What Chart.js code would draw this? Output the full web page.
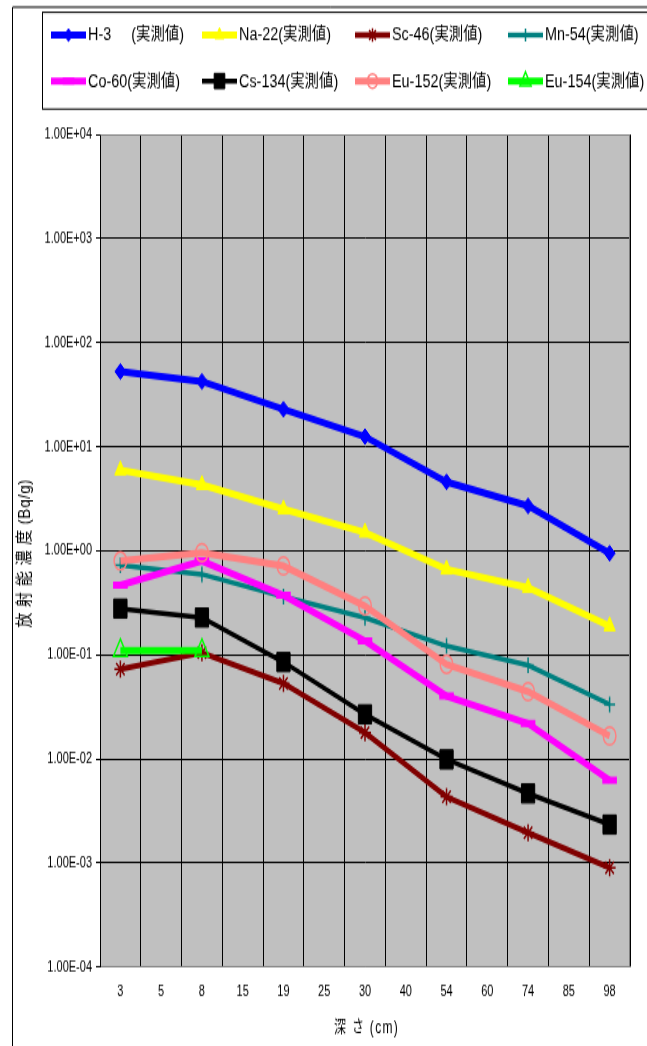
<!DOCTYPE html>
<html>
<head>
<meta charset="utf-8">
<script src="https://cdn.jsdelivr.net/npm/chart.js@4.4.1/dist/chart.umd.min.js"></script>
<style>
html,body{margin:0;padding:0;background:#fff;overflow:hidden}
#c{display:block;width:647px !important;height:1046px !important}
</style>
</head>
<body>
<canvas id="c" width="647" height="732" style="width:647px;height:1046px"></canvas>
<script>
// ---- data ----
const depths = ['3','5','8','15','19','25','30','40','54','60','74','85','98'];
const h3    = [52.8, null, 42.4, null, 22.9, null, 12.5, null, 4.59, null, 2.70, null, 0.946];
const na22  = [5.94, null, 4.30, null, 2.51, null, 1.50, null, 0.664, null, 0.443, null, 0.189];
const sc46  = [0.0730, null, 0.105, null, 0.0532, null, 0.0179, null, 0.00433, null, 0.00195, null, 0.00090];
const mn54  = [0.726, null, 0.594, null, 0.363, null, 0.228, null, 0.1215, null, 0.0794, null, 0.0334];
const co60  = [0.466, null, 0.798, null, 0.373, null, 0.136, null, 0.0402, null, 0.0219, null, 0.00625];
const cs134 = [0.278, null, 0.228, null, 0.0853, null, 0.0268, null, 0.00989, null, 0.00466, null, 0.00234];
const eu152 = [0.798, null, 0.960, null, 0.714, null, 0.295, null, 0.0810, null, 0.0443, null, 0.0166];
const eu154 = [0.110, null, 0.110, null, null, null, null, null, null, null, null, null, null];
const seriesNames = ['H-3     (実測値)','Na-22(実測値)','Sc-46(実測値)','Mn-54(実測値)',
                     'Co-60(実測値)','Cs-134(実測値)','Eu-152(実測値)','Eu-154(実測値)'];
const yTickValues = [1e-4, 1e-3, 1e-2, 1e-1, 1e0, 1e1, 1e2, 1e3, 1e4];
const xTitle = '深 さ (cm)';
const yTitle = '放 射 能 濃 度 (Bq/g)';

// ---- layout (drawn at reduced height, stretched vertically by CSS like the original) ----
const W = 647, H = 732;
const S = 1046 / H;
const AREA = { left: 100, right: 630, top: 134.5 / S, bottom: 967 / S };
const FONT = "'Liberation Sans', Arial, 'Noto Sans CJK JP', sans-serif";

Chart.defaults.font.family = FONT;
Chart.defaults.font.size = 11;
Chart.defaults.color = '#000';

function ds(label, data, color, style, radius, pbw, lw, fill, order) {
  return {
    label, data, order,
    borderColor: color, backgroundColor: color, borderWidth: lw,
    pointStyle: style, pointRadius: radius, pointHoverRadius: radius,
    pointBorderWidth: pbw, pointBackgroundColor: fill, pointBorderColor: color,
    spanGaps: true, tension: 0, fill: false
  };
}

const datasets = [
  ds(seriesNames[0], h3,    '#0000FF', 'rectRot',  5.5, 1,   5,   '#0000FF', 7),
  ds(seriesNames[1], na22,  '#FFFF00', 'triangle', 6.5, 1,   5,   '#FFFF00', 6),
  ds(seriesNames[2], sc46,  '#800000', 'star',     6,   1.5, 4,   '#800000', 5),
  ds(seriesNames[3], mn54,  '#008080', 'cross',    5.5, 1.5, 3.5, '#008080', 4),
  ds(seriesNames[4], co60,  '#FF00FF', 'line',     7.3, 5,   5,   '#FF00FF', 3),
  ds(seriesNames[5], cs134, '#000000', 'rect',     9.4, 1,   3.5, '#000000', 2),
  ds(seriesNames[6], eu152, '#FF8080', 'circle',   6.3, 1.5, 5,   'rgba(0,0,0,0)', 1),
  ds(seriesNames[7], eu154, '#00FF00', 'triangle', 8,   1.5, 5,   'rgba(0,0,0,0)', 0)
];

const decor = {
  id: 'decor',
  beforeDraw(chart) {
    const { ctx, chartArea: a } = chart;
    ctx.save();
    ctx.fillStyle = '#fff';
    ctx.fillRect(0, 0, chart.width, chart.height);
    ctx.strokeStyle = '#000';
    ctx.lineWidth = 1;
    ctx.beginPath();
    ctx.moveTo(12.5, H + 2);
    ctx.lineTo(12.5, 5);
    ctx.lineTo(W + 2, 5);
    ctx.stroke();
    ctx.fillStyle = '#C0C0C0';
    ctx.fillRect(a.left, a.top, a.right - a.left, a.bottom - a.top);
    ctx.restore();
  },
  beforeDatasetsDraw(chart) {
    const { ctx, chartArea: a } = chart;
    ctx.save();
    ctx.strokeStyle = '#808080';
    ctx.lineWidth = 1;
    ctx.beginPath();
    ctx.moveTo(a.left + 0.5, Math.round(a.top) + 0.5);
    ctx.lineTo(Math.round(a.right) - 0.5, Math.round(a.top) + 0.5);
    ctx.lineTo(Math.round(a.right) - 0.5, Math.round(a.bottom));
    ctx.stroke();
    ctx.restore();
  },
  afterDraw(chart) {
    const ctx = chart.ctx;
    ctx.save();
    ctx.strokeStyle = '#000';
    ctx.lineWidth = 1;
    ctx.strokeRect(42.5, 8.6, W + 10, 76.3 - 8.6);
    const cols = [51, 202, 355, 508];
    const rows = [24.5, 56.7];
    chart.data.datasets.forEach((d, i) => {
      const x0 = cols[i % 4], y = rows[Math.floor(i / 4)];
      ctx.strokeStyle = d.borderColor;
      ctx.lineWidth = d.borderWidth;
      ctx.beginPath();
      ctx.moveTo(x0, y);
      ctx.lineTo(x0 + 35, y);
      ctx.stroke();
      if (Chart.helpers && Chart.helpers.drawPoint) {
        ctx.fillStyle = d.pointBackgroundColor;
        ctx.strokeStyle = d.pointBorderColor;
        ctx.lineWidth = d.pointBorderWidth;
        Chart.helpers.drawPoint(ctx, {
          pointStyle: d.pointStyle, radius: d.pointRadius * 0.8,
          borderWidth: d.pointBorderWidth, rotation: 0
        }, x0 + 17.5, y);
      }
      ctx.save();
      ctx.translate(x0 + 37, y);
      ctx.scale(1.2, 1);
      ctx.font = '12px ' + FONT;
      ctx.textBaseline = 'middle';
      ctx.textAlign = 'left';
      ctx.fillStyle = '#000';
      ctx.fillText(d.label, 0, 0.5);
      ctx.restore();
    });
    ctx.fillStyle = '#000';
    ctx.font = '12px ' + FONT;
    ctx.textAlign = 'center';
    ctx.textBaseline = 'middle';
    ctx.letterSpacing = '1.3px';
    ctx.fillText(xTitle, 366.5, 1028 / S);
    ctx.save();
    ctx.translate(25, 553.3 / S);
    ctx.rotate(-Math.PI / 2);
    ctx.scale(0.62, 1);
    ctx.font = '17px ' + FONT;
    ctx.letterSpacing = '0.8px';
    ctx.textAlign = 'center';
    ctx.textBaseline = 'middle';
    ctx.fillText(yTitle, 0, 0);
    ctx.restore();
    ctx.restore();
  }
};

function fmtExp(v) {
  const e = Math.round(Math.log10(v));
  return '1.00E' + (e < 0 ? '-' : '+') + String(Math.abs(e)).padStart(2, '0');
}

new Chart(document.getElementById('c'), {
  type: 'line',
  data: { labels: depths, datasets },
  plugins: [decor],
  options: {
    responsive: false,
    devicePixelRatio: 1,
    animation: false,
    events: [],
    layout: { padding: { top: AREA.top, right: W - AREA.right, bottom: 0, left: 0 } },
    plugins: { legend: { display: false }, tooltip: { enabled: false }, title: { display: false } },
    scales: {
      x: {
        type: 'category',
        offset: true,
        grid: { offset: true, color: '#000', lineWidth: 1, drawTicks: false },
        border: { display: true, color: '#808080', width: 1 },
        ticks: { padding: 11, autoSkip: false, maxRotation: 0, minRotation: 0, font: { size: 11 }, color: '#000' },
        afterFit(scale) { scale.height = H - AREA.bottom; }
      },
      y: {
        type: 'logarithmic',
        min: 1e-4,
        max: 1e4,
        afterBuildTicks(scale) { scale.ticks = yTickValues.map(v => ({ value: v })); },
        grid: {
          color: (c) => (c.tick && (c.tick.value === 1e4 || c.tick.value === 1e-4)) ? '#808080' : '#000',
          tickColor: '#000',
          lineWidth: 1, drawTicks: true, tickLength: 4
        },
        border: { display: true, color: '#000', width: 1 },
        ticks: { padding: 4, autoSkip: false, font: { size: 11 }, color: '#000', callback: (v) => fmtExp(v) },
        afterFit(scale) { scale.width = AREA.left; }
      }
    }
  }
});
</script>
</body>
</html>
